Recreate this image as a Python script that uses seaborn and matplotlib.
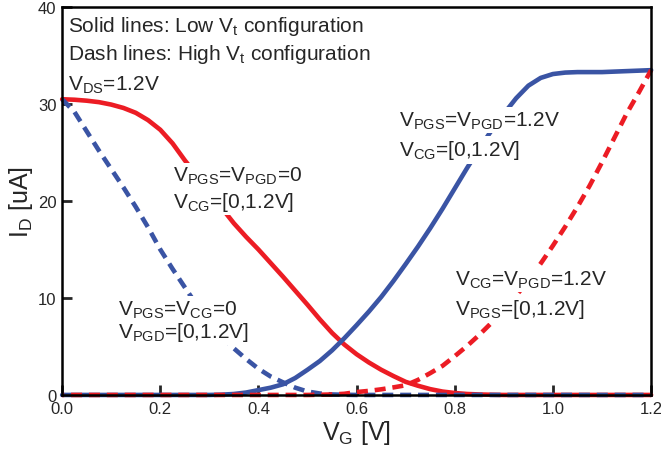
import matplotlib
matplotlib.use("Agg")
import pandas as pd
import matplotlib.pyplot as plt
import seaborn as sns

# gate voltage sweep [V]
vg = [0.0, 0.025, 0.05, 0.075, 0.1, 0.125, 0.15, 0.175, 0.2, 0.225, 0.25, 0.275,
      0.3, 0.325, 0.35, 0.375, 0.4, 0.425, 0.45, 0.475, 0.5, 0.525, 0.55, 0.575,
      0.6, 0.625, 0.65, 0.675, 0.7, 0.725, 0.75, 0.775, 0.8, 0.825, 0.85, 0.875,
      0.9, 0.925, 0.95, 0.975, 1.0, 1.025, 1.05, 1.075, 1.1, 1.125, 1.15, 1.175, 1.2]

# drain current [uA]
# low Vt, VPGS=VPGD=0, VCG swept
red_solid = [30.5, 30.45, 30.35, 30.2, 29.95, 29.6, 29.1, 28.35, 27.35, 25.95, 24.2, 22.6,
             21.0, 19.3, 17.7, 16.3, 15.0, 13.6, 12.2, 10.75, 9.3, 7.8, 6.4, 5.2,
             4.2, 3.35, 2.6, 1.95, 1.35, 0.95, 0.6, 0.35, 0.2, 0.1, 0.05, 0.02,
             0, 0, 0, 0, 0, 0, 0, 0, 0, 0, 0, 0, 0]
# low Vt, VPGS=VPGD=1.2V, VCG swept
blue_solid = [0, 0, 0, 0, 0, 0, 0, 0, 0, 0, 0, 0,
              0, 0.03, 0.1, 0.25, 0.5, 0.75, 1.1, 1.75, 2.6, 3.5, 4.6, 5.85,
              7.2, 8.6, 10.1, 11.75, 13.5, 15.3, 17.2, 19.2, 21.3, 23.4, 25.4, 27.3,
              29.0, 30.6, 31.9, 32.7, 33.1, 33.25, 33.3, 33.3, 33.3, 33.35, 33.4, 33.45, 33.5]
# high Vt, VPGS=VCG=0, VPGD swept
blue_dash = [30.5, 29.2, 27.2, 25.2, 23.3, 21.4, 19.4, 17.3, 15.0, 13.0, 11.1, 9.2,
             7.5, 6.1, 4.8, 3.7, 2.7, 1.9, 1.3, 0.75, 0.35, 0.15, 0.05, 0.02,
             0, 0, 0, 0, 0, 0, 0, 0, 0, 0, 0, 0,
             0, 0, 0, 0, 0, 0, 0, 0, 0, 0, 0, 0, 0]
# high Vt, VCG=VPGD=1.2V, VPGS swept
red_dash = [0, 0, 0, 0, 0, 0, 0, 0, 0, 0, 0, 0,
            0, 0, 0, 0, 0, 0, 0, 0, 0, 0.02, 0.05, 0.12,
            0.3, 0.42, 0.58, 0.78, 1.0, 1.55, 2.25, 3.0, 4.0, 5.05, 6.2, 7.45,
            8.8, 10.25, 11.8, 13.55, 15.4, 17.35, 19.4, 21.6, 24.0, 26.5, 29.0, 31.2, 33.5]

df = pd.DataFrame({"vg": vg, "red_solid": red_solid, "blue_solid": blue_solid,
                   "blue_dash": blue_dash, "red_dash": red_dash})

sns.set_style("ticks")
plt.rcParams["font.family"] = ["Liberation Sans", "DejaVu Sans"]
plt.rcParams["mathtext.fontset"] = "custom"
plt.rcParams["mathtext.rm"] = "Liberation Sans"
plt.rcParams["mathtext.it"] = "Liberation Sans:italic"

RED = "#ec1c24"
BLUE = "#3a54a4"

fig = plt.figure(figsize=(6.61, 4.52), dpi=100)
ax = fig.add_axes([0.094, 0.124, 0.891, 0.858])

lw = 3.3
sns.lineplot(data=df, x="vg", y="red_solid", color=RED, lw=lw, ax=ax, clip_on=False)
sns.lineplot(data=df, x="vg", y="blue_solid", color=BLUE, lw=lw, ax=ax, clip_on=False)
sns.lineplot(data=df, x="vg", y="blue_dash", color=BLUE, lw=lw, ax=ax, clip_on=False,
             linestyle=(0, (2.4, 1.5)))
sns.lineplot(data=df, x="vg", y="red_dash", color=RED, lw=lw, ax=ax, clip_on=False,
             linestyle=(1.95, (2.4, 1.5)))

ax.set_xlim(0, 1.2)
ax.set_ylim(0, 40)
ax.set_xticks([0.0, 0.2, 0.4, 0.6, 0.8, 1.0, 1.2])
ax.set_xticklabels(["0.0", "0.2", "0.4", "0.6", "0.8", "1.0", "1.2"])
ax.set_yticks([0, 10, 20, 30, 40])
ax.tick_params(direction="in", length=7, width=2, labelsize=12, pad=4,
               top=False, right=False)
for s in ax.spines.values():
    s.set_linewidth(1.8)
    s.set_color("black")

ax.set_xlabel(r"$\mathrm{V_G}$ [V]", fontsize=18, labelpad=2)
ax.set_ylabel(r"$\mathrm{I_D}$ [uA]", fontsize=18, labelpad=2)

fs = 15
box = dict(facecolor="white", edgecolor="none", pad=1.5)
ax.text(0.012, 37.5, r"Solid lines: Low $\mathrm{V_t}$ configuration", fontsize=fs, va="baseline")
ax.text(0.012, 34.6, r"Dash lines: High $\mathrm{V_t}$ configuration", fontsize=fs, va="baseline")
ax.text(0.012, 31.5, r"$\mathrm{V_{DS}}$=1.2V", fontsize=fs, va="baseline")

ax.text(0.225, 22.1, r"$\mathrm{V_{PGS}}$=$\mathrm{V_{PGD}}$=0", fontsize=fs, va="baseline", bbox=box)
ax.text(0.225, 19.4, r"$\mathrm{V_{CG}}$=[0,1.2V]", fontsize=fs, va="baseline", bbox=box)

ax.text(0.687, 27.8, r"$\mathrm{V_{PGS}}$=$\mathrm{V_{PGD}}$=1.2V", fontsize=fs, va="baseline", bbox=box)
ax.text(0.687, 24.7, r"$\mathrm{V_{CG}}$=[0,1.2V]", fontsize=fs, va="baseline", bbox=box)

ax.text(0.114, 8.3, r"$\mathrm{V_{PGS}}$=$\mathrm{V_{CG}}$=0", fontsize=fs, va="baseline", bbox=box)
ax.text(0.114, 6.0, r"$\mathrm{V_{PGD}}$=[0,1.2V]", fontsize=fs, va="baseline", bbox=box)

ax.text(0.80, 11.4, r"$\mathrm{V_{CG}}$=$\mathrm{V_{PGD}}$=1.2V", fontsize=fs, va="baseline", bbox=box)
ax.text(0.80, 8.3, r"$\mathrm{V_{PGS}}$=[0,1.2V]", fontsize=fs, va="baseline", bbox=box)

fig.savefig("out.png", dpi=100)
